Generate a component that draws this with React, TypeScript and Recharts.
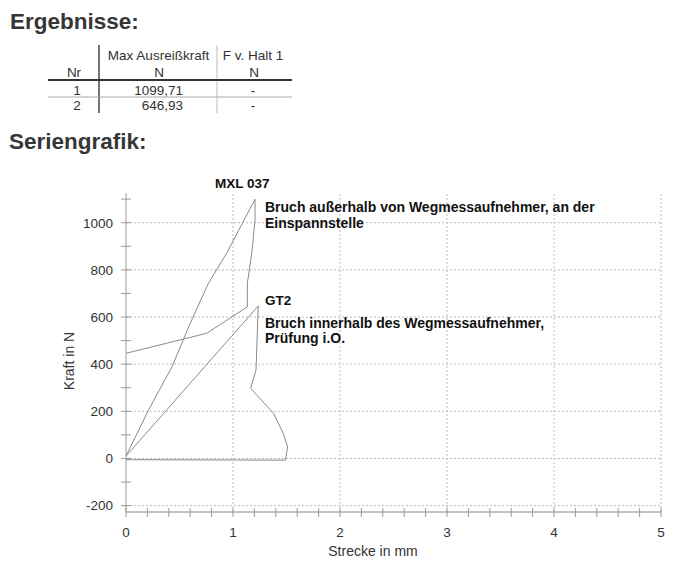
import React from 'react';
import { LineChart, Line, XAxis, YAxis, ReferenceLine } from 'recharts';

// Kurve 1: MXL 037 (Belastung, Bruch, Rückfahrt)
const mxlStrecke = [0, 0.21, 0.43, 0.6, 0.77, 0.94, 1.206, 1.206, 1.175, 1.134, 1.134, 0.754, 0];
const mxlKraft = [10, 205, 389, 573, 743, 870, 1099.71, 1011, 870, 743, 643, 531, 446];

// Kurve 2: GT2
const gt2Strecke = [0, 1.236, 1.215, 1.165, 1.38, 1.47, 1.51, 1.49, 0];
const gt2Kraft = [10, 646.93, 375, 297, 191, 106, 49, -7, -5];

const xTicks = [0, 0.2, 0.4, 0.6, 0.8, 1, 1.2, 1.4, 1.6, 1.8, 2, 2.2, 2.4, 2.6, 2.8, 3, 3.2, 3.4, 3.6, 3.8, 4, 4.2, 4.4, 4.6, 4.8, 5];
const yTicks = [-200, -100, 0, 100, 200, 300, 400, 500, 600, 700, 800, 900, 1000, 1100];
const gridX = [1, 2, 3, 4, 5];
const gridY = [-200, 0, 200, 400, 600, 800, 1000];

const tableRows = [
  { nr: '1', kraft: '1099,71', halt: '-' },
  { nr: '2', kraft: '646,93', halt: '-' },
];

const mxlData = mxlStrecke.map((x, i) => ({ x, y: mxlKraft[i] }));
const gt2Data = gt2Strecke.map((x, i) => ({ x, y: gt2Kraft[i] }));

const font = '"Liberation Sans", Arial, sans-serif';

const XTick = (props: any) => {
  const { x, y, payload } = props;
  const v = payload.value;
  const isMajor = Math.abs(v - Math.round(v)) < 1e-6;
  return (
    <g>
      <line x1={x} y1={y - 4} x2={x} y2={y + 5} stroke="#999" strokeWidth={1} />
      {isMajor && (
        <text x={x} y={y + 25} textAnchor="middle" fontSize={13.5} fill="#333" fontFamily={font}>
          {Math.round(v)}
        </text>
      )}
    </g>
  );
};

const YTick = (props: any) => {
  const { x, y, payload } = props;
  const v = payload.value;
  const showLabel = v % 200 === 0 && v <= 1000;
  return (
    <g>
      <line x1={x - 5} y1={y} x2={x + 5} y2={y} stroke="#999" strokeWidth={1} />
      {showLabel && (
        <text x={x - 13} y={y + 4.8} textAnchor="end" fontSize={13.5} fill="#333" fontFamily={font}>
          {v}
        </text>
      )}
    </g>
  );
};

const Kopf = () => (
  <svg width={685} height={563} style={{ position: 'absolute', left: 0, top: 0 }} fontFamily={font}>
    <text x={10} y={29} fontSize={22.5} fontWeight="bold" fill="#363636">Ergebnisse:</text>

    <line x1={99} y1={45} x2={99} y2={113} stroke="#444" strokeWidth={1.5} />
    <line x1={217} y1={45} x2={217} y2={113} stroke="#bbb" strokeWidth={1} />
    <g fontSize={13.5} fill="#333">
      <text x={158.5} y={60} textAnchor="middle">Max Ausreißkraft</text>
      <text x={253} y={60} textAnchor="middle">F v. Halt 1</text>
      <text x={74} y={77} textAnchor="middle">Nr</text>
      <text x={159} y={77} textAnchor="middle">N</text>
      <text x={254} y={77} textAnchor="middle">N</text>
      {tableRows.map((r, i) => (
        <g key={r.nr}>
          <text x={77} y={95 + i * 15} textAnchor="middle">{r.nr}</text>
          <text x={183} y={95 + i * 15} textAnchor="end">{r.kraft}</text>
          <text x={253} y={95 + i * 15} textAnchor="middle">{r.halt}</text>
        </g>
      ))}
    </g>
    <line x1={48} y1={80} x2={292} y2={80} stroke="#333" strokeWidth={2} />
    <line x1={48} y1={97} x2={292} y2={97} stroke="#aaa" strokeWidth={1} />

    <text x={9} y={149} fontSize={22.5} fontWeight="bold" fill="#363636">Seriengrafik:</text>

    <g fontSize={13.5} fontWeight="bold" fill="#111">
      <text x={215} y={188}>MXL 037</text>
      <text x={265} y={212} fontSize={14}>Bruch außerhalb von Wegmessaufnehmer, an der</text>
      <text x={265} y={228} fontSize={14}>Einspannstelle</text>
      <text x={265} y={305}>GT2</text>
      <text x={265} y={328} fontSize={14}>Bruch innerhalb des Wegmessaufnehmer,</text>
      <text x={265} y={343} fontSize={14}>Prüfung i.O.</text>
    </g>

    <text x={74} y={361} fontSize={14} textAnchor="middle" fill="#333" transform="rotate(-90 74 361)">Kraft in N</text>
    <text x={373} y={556} fontSize={14} textAnchor="middle" fill="#333">Strecke in mm</text>
  </svg>
);

export default function App() {
  return (
    <div style={{ position: 'absolute', left: 0, top: 0, width: 685, height: 563, background: '#fff' }}>
      <div style={{ position: 'absolute', left: 0, top: 0 }}>
        <LineChart width={685} height={563} margin={{ top: 193, right: 24, bottom: 21, left: 66 }}>
          <XAxis
            dataKey="x"
            type="number"
            domain={[0, 5]}
            ticks={xTicks}
            interval={0}
            allowDataOverflow
            height={30}
            tickSize={0}
            tickMargin={0}
            tickLine={false}
            tick={<XTick />}
            axisLine={{ stroke: '#b0b0b0', strokeWidth: 1.5 }}
          />
          <YAxis
            dataKey="y"
            type="number"
            domain={[-227, 1126]}
            ticks={yTicks}
            interval={0}
            allowDataOverflow
            width={60}
            tickSize={0}
            tickMargin={0}
            tickLine={false}
            tick={<YTick />}
            axisLine={{ stroke: '#999', strokeWidth: 1 }}
          />
          {gridY.map((v) => (
            <ReferenceLine key={'gy' + v} y={v} stroke="#bbb" strokeDasharray="2 2" />
          ))}
          {gridX.map((v) => (
            <ReferenceLine key={'gx' + v} x={v} stroke="#bbb" strokeDasharray="2 2" />
          ))}
          <Line
            data={mxlData}
            dataKey="y"
            type="linear"
            stroke="#8a8a8a"
            strokeWidth={1}
            dot={false}
            isAnimationActive={false}
          />
          <Line
            data={gt2Data}
            dataKey="y"
            type="linear"
            stroke="#8a8a8a"
            strokeWidth={1}
            dot={false}
            isAnimationActive={false}
          />
        </LineChart>
      </div>
      <Kopf />
    </div>
  );
}
